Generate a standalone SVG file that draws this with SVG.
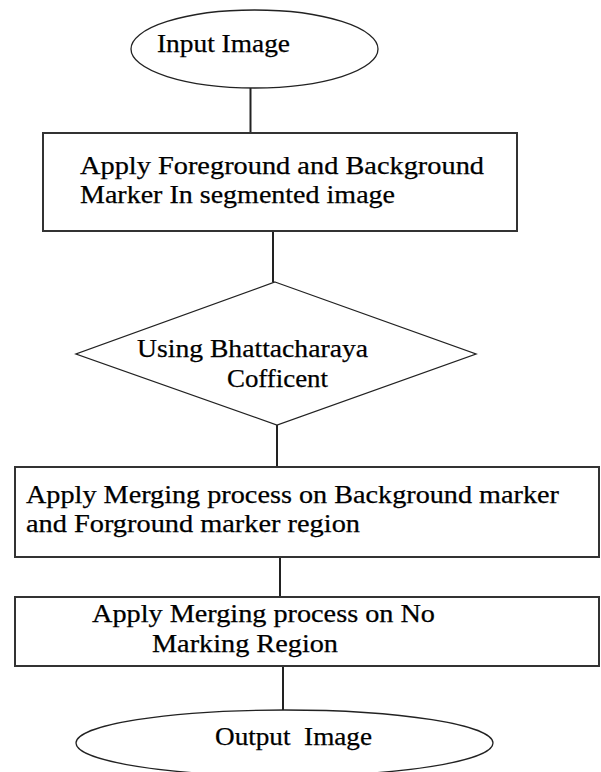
<svg xmlns="http://www.w3.org/2000/svg" width="601" height="772" viewBox="0 0 601 772">
  <style>
    .shape { fill: #ffffff; stroke: #333333; stroke-width: 2; }
    .thin { fill: #ffffff; stroke: #222222; stroke-width: 1.3; }
    .link { stroke: #222222; stroke-width: 2; fill: none; }
    .t { font-family: "Liberation Serif", "Times New Roman", serif; font-size: 25px; fill: #000000; stroke: #000000; stroke-width: 0.25; white-space: pre; }
  </style>
  <rect x="0" y="0" width="601" height="772" fill="#ffffff"/>

  <!-- connectors between steps -->
  <g id="connectors">
    <line class="link" x1="250.5" y1="88" x2="250.5" y2="133"/>
    <line class="link" x1="273" y1="231" x2="273" y2="282"/>
    <line class="link" x1="277" y1="425" x2="277" y2="467"/>
    <line class="link" x1="280" y1="557" x2="280" y2="597"/>
    <line class="link" x1="283" y1="666" x2="283" y2="710"/>
  </g>

  <g id="input-image">
    <ellipse class="thin" cx="254.5" cy="49" rx="123.5" ry="39"/>
    <text class="t" x="157" y="52" textLength="133" lengthAdjust="spacingAndGlyphs">Input Image</text>
  </g>

  <g id="apply-markers">
    <rect class="shape" x="43" y="133" width="474" height="98"/>
    <text class="t" x="80" y="174" textLength="404" lengthAdjust="spacingAndGlyphs">Apply Foreground and Background</text>
    <text class="t" x="80" y="203" textLength="315" lengthAdjust="spacingAndGlyphs">Marker In segmented image</text>
  </g>

  <g id="bhattacharaya">
    <polygon class="thin" points="275,282 476,354 277,425 76,354"/>
    <text class="t" x="137" y="357" textLength="231" lengthAdjust="spacingAndGlyphs">Using Bhattacharaya</text>
    <text class="t" x="227" y="387" textLength="101" lengthAdjust="spacingAndGlyphs">Cofficent</text>
  </g>

  <g id="merge-markers">
    <rect class="shape" x="15" y="467" width="584" height="90"/>
    <text class="t" x="26" y="503" textLength="533" lengthAdjust="spacingAndGlyphs">Apply Merging process on Background marker</text>
    <text class="t" x="26" y="532" textLength="334" lengthAdjust="spacingAndGlyphs">and Forground marker region</text>
  </g>

  <g id="merge-no-marking">
    <rect class="shape" x="15" y="597" width="584" height="69"/>
    <text class="t" x="92" y="622" textLength="343" lengthAdjust="spacingAndGlyphs">Apply Merging process on No</text>
    <text class="t" x="152" y="652" textLength="186" lengthAdjust="spacingAndGlyphs">Marking Region</text>
  </g>

  <g id="output-image">
    <ellipse class="thin" cx="284.5" cy="743" rx="208.5" ry="33"/>
    <text class="t" x="215" y="745" textLength="157" lengthAdjust="spacingAndGlyphs">Output  Image</text>
  </g>
</svg>
